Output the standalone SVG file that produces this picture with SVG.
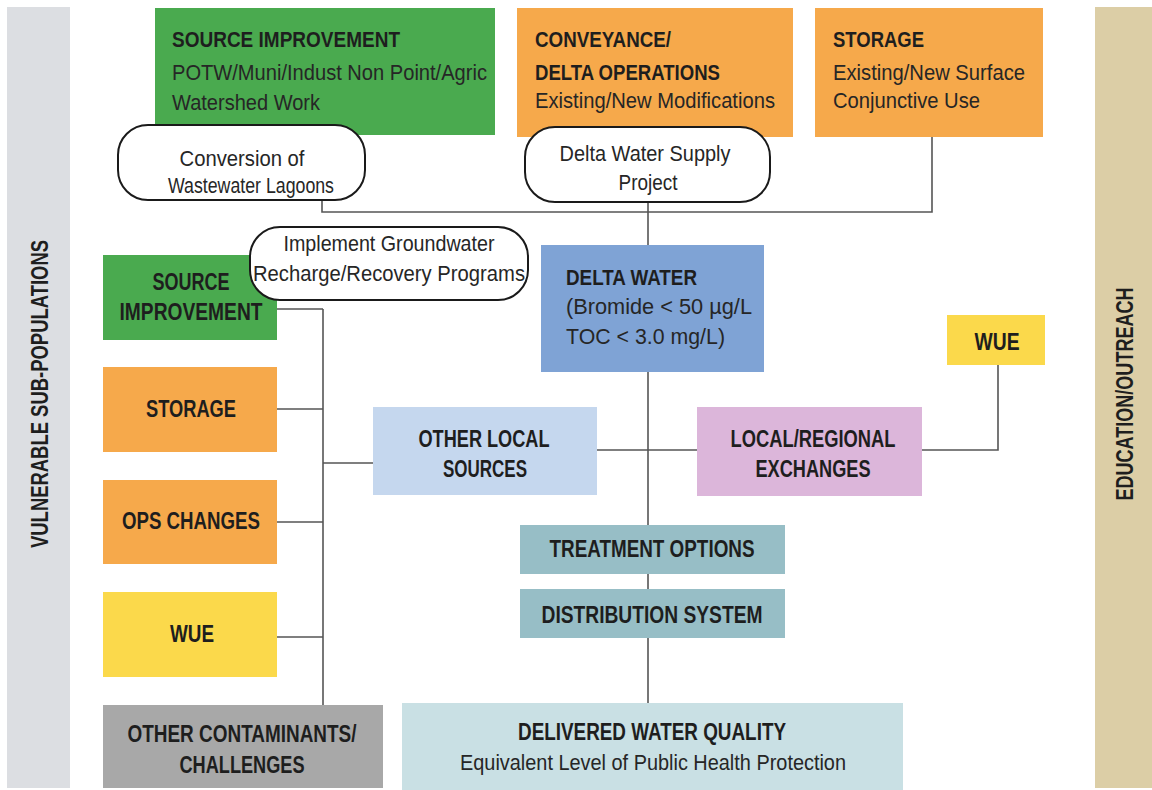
<svg xmlns="http://www.w3.org/2000/svg" width="1152" height="790" viewBox="0 0 1152 790">
<style>
.b{font-family:"Liberation Sans",Arial,sans-serif;font-weight:bold;font-size:24px;fill:#1e1e1e}
.t{font-family:"Liberation Sans",Arial,sans-serif;font-weight:bold;font-size:22px;fill:#1e1e1e}
.v{font-family:"Liberation Sans",Arial,sans-serif;font-weight:bold;font-size:23px;fill:#1e1e1e}
.r{font-family:"Liberation Sans",Arial,sans-serif;font-size:22px;fill:#262626}
.p{fill:#fff;stroke:#1a1a1a;stroke-width:2}
.c{fill:none;stroke:#555;stroke-width:1.6}
</style>
<rect width="1152" height="790" fill="#fff"/>
<g id="band-left">
<rect x="7" y="7" width="63" height="781" fill="#dcdee2"/>
<text class="v" transform="translate(48,394) rotate(-90)" text-anchor="middle" textLength="308" lengthAdjust="spacingAndGlyphs">VULNERABLE SUB-POPULATIONS</text>
</g>
<g id="band-right">
<rect x="1095" y="7" width="57" height="781" fill="#dccea6"/>
<text class="v" transform="translate(1133,394) rotate(-90)" text-anchor="middle" textLength="213" lengthAdjust="spacingAndGlyphs">EDUCATION/OUTREACH</text>
</g>
<g id="connectors">
<polyline class="c" points="322,200 322,212 932,212 932,137"/>
<line class="c" x1="648" y1="202" x2="648" y2="703"/>
<line class="c" x1="323" y1="309" x2="323" y2="705"/>
<line class="c" x1="277" y1="309" x2="323" y2="309"/>
<line class="c" x1="277" y1="409" x2="323" y2="409"/>
<line class="c" x1="277" y1="522" x2="323" y2="522"/>
<line class="c" x1="277" y1="637" x2="323" y2="637"/>
<line class="c" x1="323" y1="463" x2="373" y2="463"/>
<line class="c" x1="597" y1="450" x2="697" y2="450"/>
<polyline class="c" points="922,450 998,450 998,365"/>
</g>
<g id="source-improvement-top">
<rect x="155" y="8" width="340" height="127" fill="#4aaa4f"/>
<text class="t" x="172" y="47" textLength="228" lengthAdjust="spacingAndGlyphs">SOURCE IMPROVEMENT</text>
<text class="r" x="172" y="80" textLength="315" lengthAdjust="spacingAndGlyphs">POTW/Muni/Indust Non Point/Agric</text>
<text class="r" x="172" y="110" textLength="148" lengthAdjust="spacingAndGlyphs">Watershed Work</text>
</g>
<g id="conveyance">
<rect x="517" y="8" width="276" height="129" fill="#f6a94b"/>
<text class="t" x="535" y="47" textLength="136" lengthAdjust="spacingAndGlyphs">CONVEYANCE/</text>
<text class="t" x="535" y="80" textLength="185" lengthAdjust="spacingAndGlyphs">DELTA OPERATIONS</text>
<text class="r" x="535" y="108" textLength="240" lengthAdjust="spacingAndGlyphs">Existing/New Modifications</text>
</g>
<g id="storage-top">
<rect x="815" y="8" width="228" height="129" fill="#f6a94b"/>
<text class="t" x="833" y="47" textLength="91" lengthAdjust="spacingAndGlyphs">STORAGE</text>
<text class="r" x="833" y="80" textLength="192" lengthAdjust="spacingAndGlyphs">Existing/New Surface</text>
<text class="r" x="833" y="108" textLength="147" lengthAdjust="spacingAndGlyphs">Conjunctive Use</text>
</g>
<g id="conversion-lagoons">
<rect class="p" x="118" y="125" width="247" height="75" rx="30"/>
<text class="r" x="242" y="166" text-anchor="middle" textLength="125" lengthAdjust="spacingAndGlyphs">Conversion of</text>
<text class="r" x="251" y="193" text-anchor="middle" textLength="166" lengthAdjust="spacingAndGlyphs">Wastewater Lagoons</text>
</g>
<g id="delta-water-supply">
<rect class="p" x="525" y="127" width="245" height="75" rx="30"/>
<text class="r" x="645" y="161" text-anchor="middle" textLength="171" lengthAdjust="spacingAndGlyphs">Delta Water Supply</text>
<text class="r" x="648" y="190" text-anchor="middle" textLength="59" lengthAdjust="spacingAndGlyphs">Project</text>
</g>
<g id="source-improvement-left">
<rect x="103" y="255" width="174" height="85" fill="#4aaa4f"/>
<text class="b" x="191" y="290" text-anchor="middle" textLength="77" lengthAdjust="spacingAndGlyphs">SOURCE</text>
<text class="b" x="191" y="320" text-anchor="middle" textLength="143" lengthAdjust="spacingAndGlyphs">IMPROVEMENT</text>
</g>
<g id="groundwater">
<rect class="p" x="250" y="227" width="278" height="73" rx="30"/>
<text class="r" x="389" y="251" text-anchor="middle" textLength="211" lengthAdjust="spacingAndGlyphs">Implement Groundwater</text>
<text class="r" x="389" y="281" text-anchor="middle" textLength="272" lengthAdjust="spacingAndGlyphs">Recharge/Recovery Programs</text>
</g>
<g id="storage-left">
<rect x="103" y="367" width="174" height="85" fill="#f6a94b"/>
<text class="b" x="191" y="417" text-anchor="middle" textLength="90" lengthAdjust="spacingAndGlyphs">STORAGE</text>
</g>
<g id="ops-changes">
<rect x="103" y="480" width="174" height="84" fill="#f6a94b"/>
<text class="b" x="191" y="529" text-anchor="middle" textLength="138" lengthAdjust="spacingAndGlyphs">OPS CHANGES</text>
</g>
<g id="wue-left">
<rect x="103" y="592" width="174" height="85" fill="#fbd94b"/>
<text class="b" x="192" y="642" text-anchor="middle" textLength="44" lengthAdjust="spacingAndGlyphs">WUE</text>
</g>
<g id="other-contaminants">
<rect x="103" y="705" width="280" height="83" fill="#a8a8a8"/>
<text class="b" x="242" y="742" text-anchor="middle" textLength="229" lengthAdjust="spacingAndGlyphs">OTHER CONTAMINANTS/</text>
<text class="b" x="242" y="773" text-anchor="middle" textLength="125" lengthAdjust="spacingAndGlyphs">CHALLENGES</text>
</g>
<g id="delta-water">
<rect x="541" y="245" width="223" height="127" fill="#7fa3d5"/>
<text class="t" x="566" y="285" textLength="131" lengthAdjust="spacingAndGlyphs">DELTA WATER</text>
<text class="r" x="566" y="314" textLength="186" lengthAdjust="spacingAndGlyphs">(Bromide &lt; 50 µg/L</text>
<text class="r" x="566" y="344" textLength="159" lengthAdjust="spacingAndGlyphs">TOC &lt; 3.0 mg/L)</text>
</g>
<g id="wue-right">
<rect x="947" y="315" width="98" height="50" fill="#fbd94b"/>
<text class="b" x="997" y="350" text-anchor="middle" textLength="45" lengthAdjust="spacingAndGlyphs">WUE</text>
</g>
<g id="other-local-sources">
<rect x="373" y="407" width="224" height="88" fill="#c5d7ee"/>
<text class="b" x="484" y="447" text-anchor="middle" textLength="131" lengthAdjust="spacingAndGlyphs">OTHER LOCAL</text>
<text class="b" x="485" y="477" text-anchor="middle" textLength="84" lengthAdjust="spacingAndGlyphs">SOURCES</text>
</g>
<g id="local-regional">
<rect x="697" y="407" width="225" height="89" fill="#dcb6da"/>
<text class="b" x="813" y="447" text-anchor="middle" textLength="165" lengthAdjust="spacingAndGlyphs">LOCAL/REGIONAL</text>
<text class="b" x="813" y="477" text-anchor="middle" textLength="115" lengthAdjust="spacingAndGlyphs">EXCHANGES</text>
</g>
<g id="treatment-options">
<rect x="520" y="525" width="265" height="49" fill="#97bec6"/>
<text class="b" x="652" y="557" text-anchor="middle" textLength="205" lengthAdjust="spacingAndGlyphs">TREATMENT OPTIONS</text>
</g>
<g id="distribution-system">
<rect x="520" y="589" width="265" height="49" fill="#97bec6"/>
<text class="b" x="652" y="623" text-anchor="middle" textLength="221" lengthAdjust="spacingAndGlyphs">DISTRIBUTION SYSTEM</text>
</g>
<g id="delivered-water-quality">
<rect x="402" y="703" width="501" height="87" fill="#c9e0e4"/>
<text class="b" x="652" y="740" text-anchor="middle" textLength="268" lengthAdjust="spacingAndGlyphs">DELIVERED WATER QUALITY</text>
<text class="r" x="653" y="770" text-anchor="middle" textLength="386" lengthAdjust="spacingAndGlyphs">Equivalent Level of Public Health Protection</text>
</g>
</svg>
